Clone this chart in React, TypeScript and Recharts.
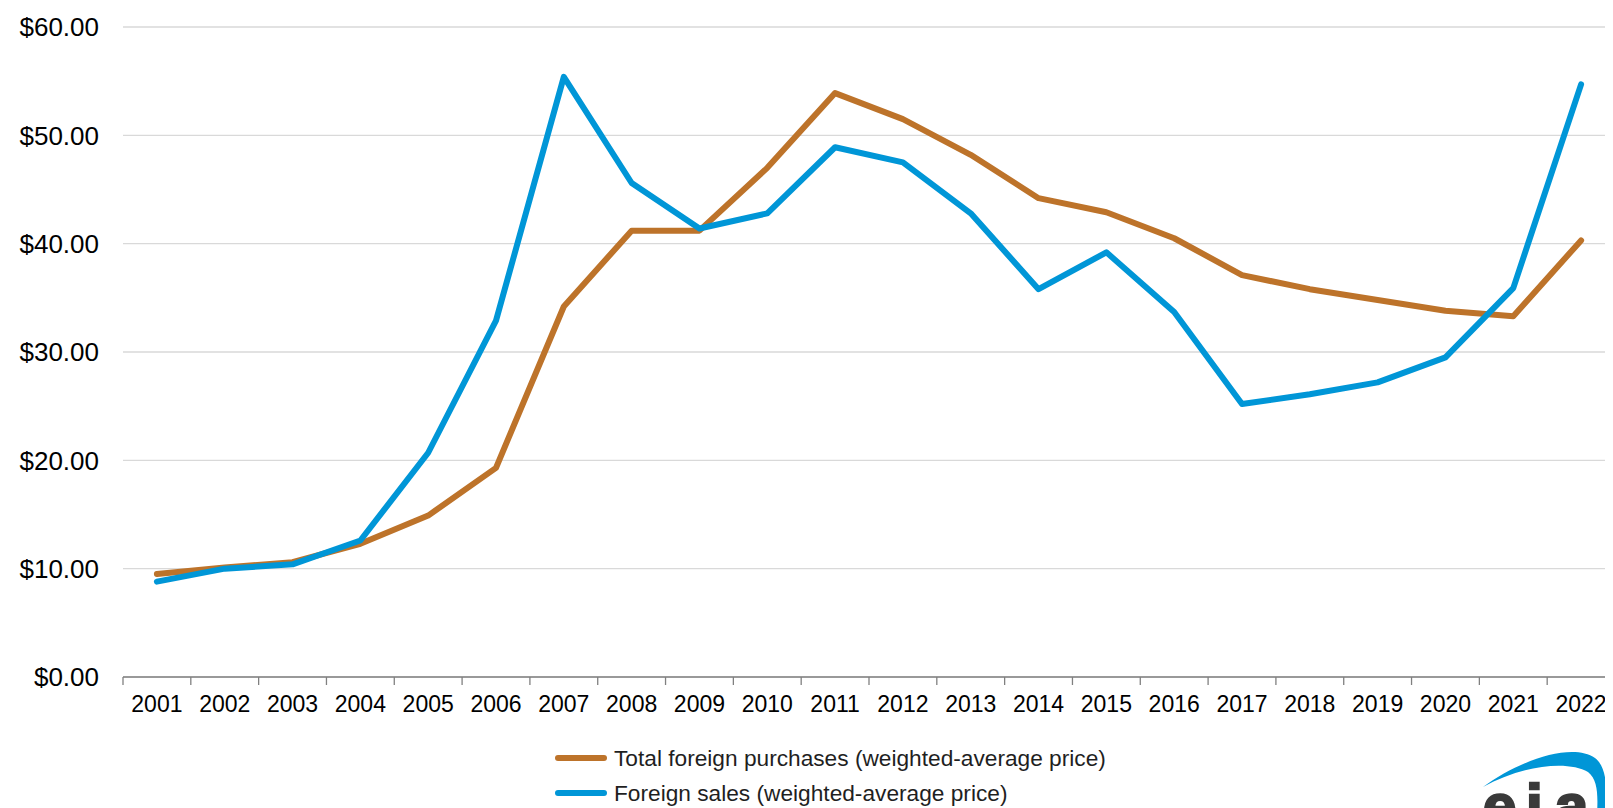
import React from 'react';
import { LineChart, Line, XAxis, YAxis, CartesianGrid, Legend } from 'recharts';

const years = ['2001', '2002', '2003', '2004', '2005', '2006', '2007', '2008', '2009', '2010', '2011', '2012', '2013', '2014', '2015', '2016', '2017', '2018', '2019', '2020', '2021', '2022'];
const totalForeignPurchases = [9.5, 10.1, 10.6, 12.3, 14.9, 19.3, 34.2, 41.2, 41.2, 47.0, 53.9, 51.5, 48.2, 44.2, 42.9, 40.5, 37.1, 35.8, 34.8, 33.8, 33.3, 40.3];
const foreignSales = [8.8, 10.0, 10.4, 12.6, 20.7, 32.9, 55.4, 45.6, 41.4, 42.8, 48.9, 47.5, 42.8, 35.8, 39.2, 33.7, 25.2, 26.1, 27.2, 29.5, 35.9, 54.7];
const yTicks = [0, 10, 20, 30, 40, 50, 60];
const seriesNames = ['Total foreign purchases (weighted-average price)', 'Foreign sales (weighted-average price)'];

const ORANGE = '#BD732A';
const BLUE = '#0096D7';

const data = years.map((year, i) => ({
  x: i + 0.5,
  year,
  purchases: totalForeignPurchases[i],
  sales: foreignSales[i],
}));
const boundaryTicks = years.map((_, i) => i).concat([years.length]);
const centerTicks = years.map((_, i) => i + 0.5);

const renderLegend = () => {
  const items = [
    { name: seriesNames[0], color: ORANGE },
    { name: seriesNames[1], color: BLUE },
  ];
  return (
    <div style={{ height: 70, paddingLeft: 547, paddingTop: 2.5, boxSizing: 'border-box' }}>
      {items.map((it) => (
        <div key={it.name} style={{ display: 'flex', alignItems: 'center', height: 35 }}>
          <svg width={59} height={10} style={{ display: 'block', flex: 'none' }}>
            <line x1={3} y1={5} x2={49} y2={5} stroke={it.color} strokeWidth={6} strokeLinecap="round" />
          </svg>
          <span
            style={{
              fontFamily: '"Liberation Sans", Arial, sans-serif',
              fontSize: 22.7,
              color: '#1f1f1f',
              whiteSpace: 'nowrap',
            }}
          >
            {it.name}
          </span>
        </div>
      ))}
    </div>
  );
};

export default function App() {
  return (
    <div style={{ position: 'relative', width: 1605, height: 800, overflow: 'hidden', fontFamily: '"Liberation Sans", Arial, sans-serif' }}>
      <LineChart width={1607} height={800} data={data} margin={{ top: 19, right: 0, bottom: 0, left: 0 }}>
        <CartesianGrid xAxisId="bounds" vertical={false} stroke="#d9d9d9" strokeWidth={1.3} />
        <XAxis
          xAxisId="bounds"
          type="number"
          dataKey="x"
          domain={[0, years.length]}
          ticks={boundaryTicks}
          interval={0}
          tickSize={8}
          height={8}
          tickFormatter={() => ''}
          axisLine={{ stroke: '#808080', strokeWidth: 1.3 }}
          tickLine={{ stroke: '#808080', strokeWidth: 1.3 }}
          allowDataOverflow
        />
        <XAxis
          xAxisId="labels"
          type="number"
          dataKey="x"
          domain={[0, years.length]}
          ticks={centerTicks}
          interval={0}
          tickSize={0}
          tickMargin={11}
          height={53}
          axisLine={false}
          tickLine={false}
          tickFormatter={(v: number) => years[Math.floor(v)]}
          tick={{ fontSize: 23, fill: '#000', fontFamily: '"Liberation Sans", Arial, sans-serif' }}
          allowDataOverflow
        />
        <YAxis
          type="number"
          domain={[0, 60]}
          ticks={yTicks}
          interval={0}
          width={115}
          tickSize={0}
          tickMargin={24}
          axisLine={false}
          tickLine={false}
          tickFormatter={(v: number) => `$${v.toFixed(2)}`}
          tick={{ fontSize: 26, fill: '#000', fontFamily: '"Liberation Sans", Arial, sans-serif' }}
        />
        <Legend verticalAlign="bottom" content={renderLegend} />
        <Line
          xAxisId="bounds"
          type="linear"
          dataKey="purchases"
          name={seriesNames[0]}
          stroke={ORANGE}
          strokeWidth={6}
          dot={false}
          activeDot={false}
          strokeLinejoin="round"
          strokeLinecap="round"
          isAnimationActive={false}
        />
        <Line
          xAxisId="bounds"
          type="linear"
          dataKey="sales"
          name={seriesNames[1]}
          stroke={BLUE}
          strokeWidth={6}
          dot={false}
          activeDot={false}
          strokeLinejoin="round"
          strokeLinecap="round"
          isAnimationActive={false}
        />
      </LineChart>
      <svg
        width={1605}
        height={800}
        style={{ position: 'absolute', left: 0, top: 0, pointerEvents: 'none' }}
      >
        <g transform="translate(-8,-8)">
          <path
            d="M1483,787 C1520,760 1572,742 1595,758 C1608,768 1607,792 1605,815 L1597,815 C1598,795 1598,780 1588,772 C1568,760 1522,765 1483,787 Z"
            fill={BLUE}
          />
          <text
            y={826}
            fontSize={60}
            fontWeight={700}
            fill="#3a3a3a"
            stroke="#3a3a3a"
            strokeWidth={2.5}
            fontFamily='"Liberation Sans", Arial, sans-serif'
          >
            <tspan x={1483}>e</tspan>
            <tspan x={1526}>i</tspan>
            <tspan x={1555}>a</tspan>
          </text>
        </g>
      </svg>
    </div>
  );
}
